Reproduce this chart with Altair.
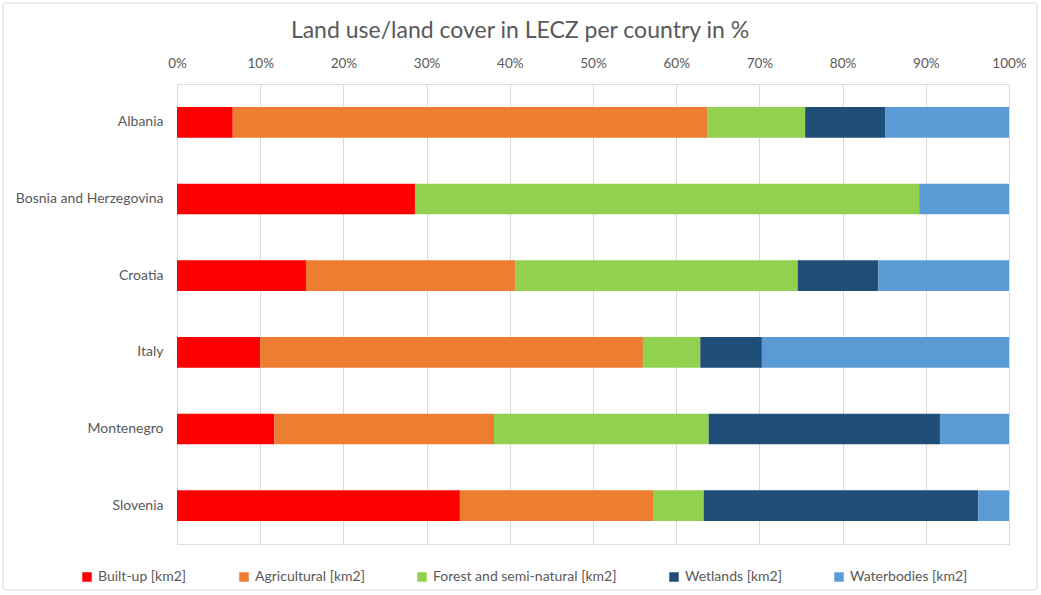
import altair as alt
import pandas as pd

countries = ["Albania", "Bosnia and Herzegovina", "Croatia", "Italy", "Montenegro", "Slovenia"]
categories = ["Built-up [km2]", "Agricultural [km2]", "Forest and semi-natural [km2]", "Wetlands [km2]", "Waterbodies [km2]"]
colors = ["#FF0000", "#ED7D31", "#92D050", "#1F4E79", "#5B9BD5"]

built_up = [6.7, 28.6, 15.5, 10.0, 11.7, 34.0]
agricultural = [57.0, 0.0, 25.2, 46.0, 26.4, 23.3]
forest = [11.8, 60.6, 33.9, 6.9, 25.8, 6.0]
wetlands = [9.6, 0.0, 9.7, 7.4, 27.8, 33.0]
waterbodies = [14.9, 10.8, 15.7, 29.7, 8.3, 3.7]

series = [built_up, agricultural, forest, wetlands, waterbodies]
rows = []
for ci, (cat, vals) in enumerate(zip(categories, series)):
    for country, v in zip(countries, vals):
        rows.append({"country": country, "category": cat, "value": v, "order": ci})
df = pd.DataFrame(rows)

FONT = "Lato"
GRAY = "#595959"

bars = alt.Chart(df).mark_bar().encode(
    y=alt.Y("country:N", sort=countries,
            scale=alt.Scale(paddingInner=0.6, paddingOuter=0.3),
            axis=alt.Axis(title=None, ticks=False, domain=False, labelFontSize=14,
                          labelColor=GRAY, labelFont=FONT, labelPadding=14, labelLimit=300)),
    x=alt.X("value:Q", stack="normalize",
            scale=alt.Scale(domain=[0, 1], nice=False),
            axis=alt.Axis(orient="top", format="%", title=None,
                          values=[i / 10 for i in range(11)],
                          labelOverlap=False, labelFlush=False,
                          ticks=False, domain=False, grid=True, gridColor="#D9D9D9",
                          labelFontSize=13.5, labelColor=GRAY, labelFont=FONT, labelPadding=14)),
    color=alt.Color("category:N", sort=categories,
                    scale=alt.Scale(domain=categories, range=colors),
                    legend=alt.Legend(title=None, orient="none", direction="horizontal",
                                      legendX=-97, legendY=486,
                                      symbolType="square", symbolSize=90, symbolStrokeWidth=0,
                                      labelFontSize=14, labelColor=GRAY, labelFont=FONT,
                                      columnPadding=50, labelOffset=4, labelLimit=300)),
    order=alt.Order("order:Q", sort="ascending"),
)

border = alt.Chart(pd.DataFrame({"a": [0]})).mark_rect(
    fill=None, stroke="#D9D9D9", strokeWidth=1, cornerRadius=3
).encode(x=alt.value(-174), x2=alt.value(860), y=alt.value(-81), y2=alt.value(506))

chart = alt.layer(border, bars).properties(
    width=832, height=460,
    autosize=alt.AutoSizeParams(type="none"),
    padding={"left": 177, "top": 84, "right": 32, "bottom": 51},
    title=alt.TitleParams("Land use/land cover in LECZ per country in %", fontSize=23,
                          font=FONT, fontWeight="normal", color=GRAY, offset=0, dy=40,
                          anchor="middle", frame="bounds"),
).configure_view(stroke=None).configure(background="white")

chart.save("out.html", embed_options={"renderer": "svg", "actions": False})
